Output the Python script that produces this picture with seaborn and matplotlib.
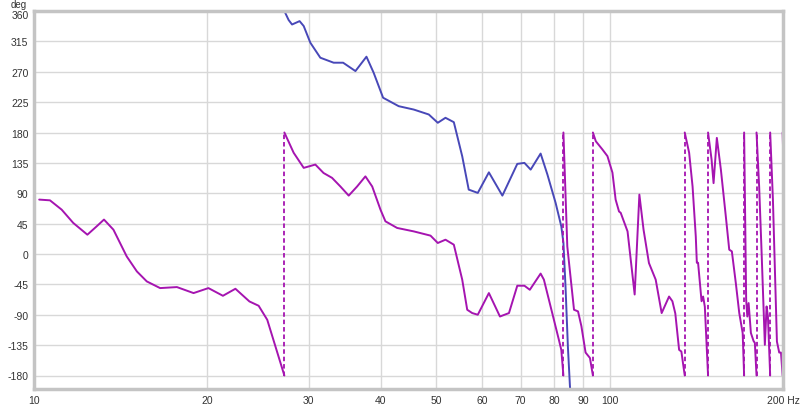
import numpy as np
import pandas as pd
import matplotlib
matplotlib.use("Agg")
import matplotlib.pyplot as plt
import matplotlib.transforms as mtrans
import seaborn as sns

# wrapped phase (magenta), wraps stored as -180 / +180 pairs at the same frequency
wrap_freq = [10.21, 10.66, 11.17, 11.70, 12.38, 12.85, 13.23, 13.74, 14.49, 15.09,
             15.70, 16.56, 17.71, 18.93, 20.09, 21.29, 22.38, 23.67, 24.56, 25.42,
             27.22, 27.22, 28.25, 29.41, 30.81, 31.84, 32.94, 34.06, 35.21, 36.41,
             37.64, 38.68, 39.98, 40.78, 42.73, 45.67, 48.84, 50.28, 51.85, 53.61,
             55.44, 56.56, 57.70, 59.00, 61.68, 64.47, 66.84, 69.10, 71.10, 72.65,
             75.86, 76.86, 80.00, 81.60, 82.40, 83.10,
             83.10, 84.40, 86.70, 88.10, 89.30, 90.80, 92.40, 93.50,
             93.50, 94.60, 97.10, 99.10, 101.1, 102.4, 103.8, 104.5, 107.4, 110.5,
             112.6, 114.5, 117.0, 120.2, 123.1, 126.8, 128.5, 130.0, 132.0, 133.2, 135.0,
             135.0, 137.4, 139.3, 141.1, 141.7, 142.4, 144.4, 145.3, 146.3, 148.2,
             148.2, 150.3, 151.5, 153.5, 156.0, 159.1, 161.3, 163.0, 165.6, 167.9, 170.2, 171.2,
             171.2, 172.6, 173.4, 174.3, 175.9, 177.8, 178.7, 179.9,
             179.9, 181.8, 183.6, 186.0, 187.3, 188.3, 190.0,
             190.0, 192.1, 195.2, 197.0, 198.4, 199.7,
             199.7, 200.0]
wrap_deg = [80.6, 79.5, 65.7, 46.0, 28.6, 41.0, 51.0, 36.0, -3.6, -25.8,
            -40.6, -50.5, -49.0, -57.9, -50.5, -61.9, -51.5, -70.3, -76.7, -97.5,
            -180, 180, 150, 127.6, 132.5, 120, 112.8, 100, 86.5, 100,
            115, 100, 65.7, 48.4, 38.6, 33.5, 27.2, 16.3, 21.2, 13.8,
            -38, -82.6, -87.5, -90, -57.9, -92.6, -87.5, -47, -47, -53,
            -29, -38, -97.5, -127, -142, -180,
            180, 11.3, -82.6, -85, -107, -146, -154, -180,
            180, 167, 155, 145, 120.6, 80.6, 63, 61, 33.5, -60,
            88, 36, -13.4, -38, -87.5, -63, -70, -88, -142, -144.5, -180,
            180, 150, 100, 26, -13, -13, -70, -63, -78, -180,
            180, 140, 105, 172, 125, 56, 6.4, 3.9, -43, -87.5, -117, -180,
            180, -67.8, -92.6, -72.7, -117, -129, -131.6, -180,
            180, 100, 2, -134.6, -77.7, -92.6, -180,
            180, 80.6, -129.7, -146, -146, -180,
            180, 160]

# unwrapped phase (blue)
unwrap_freq = [27.22, 27.69, 28.07, 28.93, 29.41, 30.20, 31.43, 33.15, 34.43, 36.17,
               37.80, 38.90, 40.40, 43.00, 45.67, 48.50, 50.28, 51.85, 53.61, 55.44,
               56.90, 59.00, 61.68, 65.10, 69.10, 71.10, 72.90, 75.86, 77.95, 80.55,
               82.40, 83.10, 83.80, 84.60, 85.30, 85.40]
unwrap_deg = [360, 346.6, 340, 345, 337.7, 313, 290.8, 283.4, 283.4, 271,
              292.3, 268.6, 231.5, 219, 214, 206.7, 194.4, 201.8, 195.3, 144.8,
              95.4, 90.5, 121, 86.5, 133.5, 135, 125, 148.8, 117.7, 75.7,
              41, 16.8, -48, -137, -196, -201]

x_ticks = [10, 20, 30, 40, 50, 60, 70, 80, 90, 100, 200]
x_labels = ["10", "20", "30", "40", "50", "60", "70", "80", "90", "100", "200 Hz"]
y_ticks = list(range(-180, 361, 45))

magenta = "#a514b0"
blue = "#4848b8"

# split the wrapped trace into solid pieces and dashed wrap jumps
wrapped = pd.DataFrame({"f": wrap_freq, "deg": wrap_deg})
jump = wrapped["deg"].diff().abs() > 300
wrapped["seg"] = jump.cumsum()
jumps = []
for i in np.where(jump)[0]:
    jumps.append({"f": wrap_freq[i - 1], "deg": wrap_deg[i - 1], "seg": i})
    jumps.append({"f": wrap_freq[i], "deg": wrap_deg[i], "seg": i})
jumps = pd.DataFrame(jumps)
unwrapped = pd.DataFrame({"f": unwrap_freq, "deg": unwrap_deg})

sns.set_style("white")
plt.rcParams["font.family"] = ["Liberation Sans", "DejaVu Sans"]

fig = plt.figure(figsize=(8, 4.06), dpi=100)
ax = fig.add_axes([34 / 800, 16 / 406, 749 / 800, 378 / 406])

sns.lineplot(data=unwrapped, x="f", y="deg", color=blue, lw=1.4, sort=False,
             estimator=None, ax=ax)
sns.lineplot(data=jumps, x="f", y="deg", units="seg", color=magenta, lw=1.3,
             estimator=None, sort=False, dashes=False, ax=ax,
             linestyle=(0, (2.5, 1.6)))
sns.lineplot(data=wrapped, x="f", y="deg", units="seg", color=magenta, lw=1.4,
             estimator=None, sort=False, ax=ax)

ax.set_xscale("log")
ax.set_xlim(10, 200)
ax.set_ylim(-200, 360)
ax.set_xticks(x_ticks)
ax.set_xticklabels(x_labels)
ax.xaxis.set_minor_locator(matplotlib.ticker.NullLocator())
ax.set_yticks(y_ticks)
ax.set_yticklabels([str(v) for v in y_ticks])
ax.grid(True, color="#d8d8d8", lw=1.0)
ax.set_axisbelow(True)
ax.tick_params(length=0, labelsize=7.5, colors="#333333", pad=4)
ax.set_xlabel("")
ax.set_ylabel("")
for s in ax.spines.values():
    s.set_color("#c4c4c4")
    s.set_linewidth(2.5)

# the top label sits a little under the frame, like the reference
top_lab = ax.get_yticklabels()[-1]
top_lab.set_transform(top_lab.get_transform() +
                      mtrans.ScaledTranslation(0, -3 / 100, fig.dpi_scale_trans))

fig.text(11 / 800, 1, "deg", fontsize=7, color="#333333", va="top")

fig.savefig("out.png", dpi=100)
